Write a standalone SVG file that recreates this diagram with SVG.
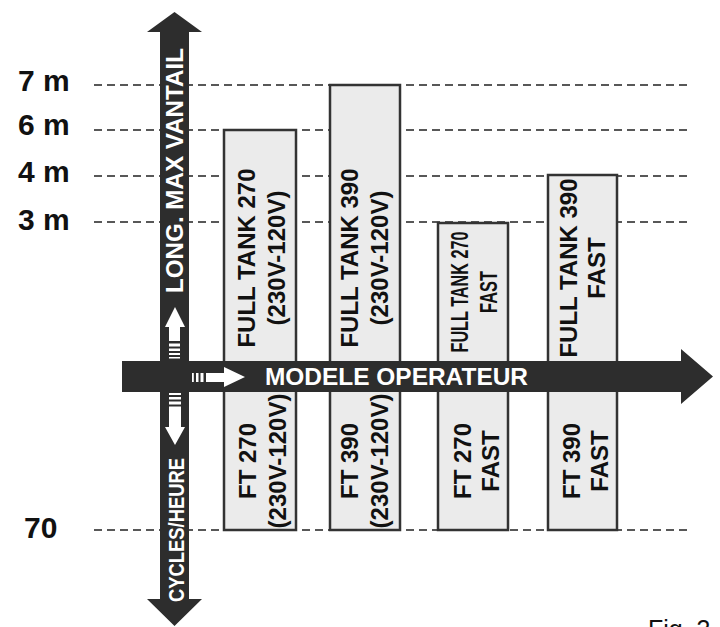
<svg xmlns="http://www.w3.org/2000/svg" width="720" height="627" viewBox="0 0 720 627">
<style>
.dash{stroke:#222;stroke-width:1.3;stroke-dasharray:8 5;fill:none}
.lbl{font-family:"Liberation Sans",Arial,sans-serif;font-weight:bold;font-size:30px;fill:#111}
.bar{fill:#ebebeb;stroke:#333;stroke-width:2.5}
.bt{font-family:"Liberation Sans",Arial,sans-serif;font-weight:bold;font-size:24px;fill:#111;text-anchor:middle}
.at{font-family:"Liberation Sans",Arial,sans-serif;font-weight:bold;fill:#fff;text-anchor:middle}
.dark{fill:#2d2d2d}
.w{fill:#fff}
</style>
<rect width="720" height="627" fill="#fff"/>
<g id="grid">
<line class="dash" x1="94" y1="85" x2="688" y2="85"/>
<line class="dash" x1="94" y1="130" x2="688" y2="130"/>
<line class="dash" x1="94" y1="176" x2="688" y2="176"/>
<line class="dash" x1="94" y1="222" x2="688" y2="222"/>
<line class="dash" x1="94" y1="530" x2="688" y2="530"/>
</g>
<g id="labels">
<text class="lbl" x="18" y="91">7 m</text>
<text class="lbl" x="18" y="135">6 m</text>
<text class="lbl" x="18" y="182">4 m</text>
<text class="lbl" x="18" y="230">3 m</text>
<text class="lbl" x="24" y="538">70</text>
</g>
<g id="bar1">
<rect class="bar" x="224" y="130" width="72" height="400"/>
<text class="bt" transform="translate(255,258) rotate(-90)">FULL TANK 270</text>
<text class="bt" transform="translate(285,258) rotate(-90)">(230V-120V)</text>
<text class="bt" transform="translate(256,461) rotate(-90)">FT 270</text>
<text class="bt" transform="translate(286,461) rotate(-90)">(230V-120V)</text>
</g>
<g id="bar2">
<rect class="bar" x="330" y="85" width="70" height="445"/>
<text class="bt" transform="translate(358,258) rotate(-90)">FULL TANK 390</text>
<text class="bt" transform="translate(388,258) rotate(-90)">(230V-120V)</text>
<text class="bt" transform="translate(358,461) rotate(-90)">FT 390</text>
<text class="bt" transform="translate(388,461) rotate(-90)">(230V-120V)</text>
</g>
<g id="bar3">
<rect class="bar" x="438" y="223" width="70" height="307"/>
<text class="bt" font-size="22" transform="translate(468,292) rotate(-90)" textLength="121" lengthAdjust="spacingAndGlyphs">FULL TANK 270</text>
<text class="bt" font-size="22" transform="translate(497,292) rotate(-90)" textLength="42" lengthAdjust="spacingAndGlyphs">FAST</text>
<text class="bt" transform="translate(471,461) rotate(-90)">FT 270</text>
<text class="bt" transform="translate(499,461) rotate(-90)">FAST</text>
</g>
<g id="bar4">
<rect class="bar" x="548" y="175" width="69" height="355"/>
<text class="bt" transform="translate(577,268) rotate(-90)">FULL TANK 390</text>
<text class="bt" transform="translate(605,268) rotate(-90)">FAST</text>
<text class="bt" transform="translate(580,461) rotate(-90)">FT 390</text>
<text class="bt" transform="translate(608,461) rotate(-90)">FAST</text>
</g>
<g id="connectors">
<g id="v-axis">
<polygon class="dark" points="160,32 147,32 174.5,12 202,32 189,32 189,599 202,599 174.5,626 147,599 160,599"/>
<text class="at" font-size="23" transform="translate(183,170.5) rotate(-90)" textLength="245" lengthAdjust="spacingAndGlyphs">LONG. MAX VANTAIL</text>
<text class="at" font-size="22" transform="translate(184,530) rotate(-90)" textLength="144" lengthAdjust="spacingAndGlyphs">CYCLES/HEURE</text>
</g>
<g id="h-axis">
<polygon class="dark" points="122,361 681,361 681,349 713,376.5 681,404 681,392 122,392"/>
<text class="at" font-size="24" x="396.5" y="385" textLength="263" lengthAdjust="spacingAndGlyphs">MODELE OPERATEUR</text>
</g>
<g id="small-arrows">
<polygon class="w" points="175,307 185,327 180,327 180,341 169,341 169,327 165,327"/>
<rect class="w" x="169" y="343.5" width="11" height="3"/>
<rect class="w" x="169" y="348.5" width="11" height="2.5"/>
<rect class="w" x="169" y="353" width="11" height="2"/>
<rect class="w" x="169" y="357" width="11" height="1.5"/>
<polygon class="w" points="245,377 224,367 224,373 206,373 206,382 224,382 224,387"/>
<rect class="w" x="200.5" y="373" width="3" height="9"/>
<rect class="w" x="196" y="373" width="2.5" height="9"/>
<rect class="w" x="192" y="373" width="1.8" height="9"/>
<polygon class="w" points="175,445 165,427 169,427 169,406.5 181,406.5 181,427 185,427"/>
<rect class="w" x="169" y="401.5" width="12" height="3"/>
<rect class="w" x="169" y="397" width="12" height="2.5"/>
<rect class="w" x="169" y="393" width="12" height="2"/>
</g>
</g>
<text x="648" y="638" font-family="'Liberation Sans',Arial,sans-serif" font-size="25" fill="#111">Fig. 3</text>
</svg>
